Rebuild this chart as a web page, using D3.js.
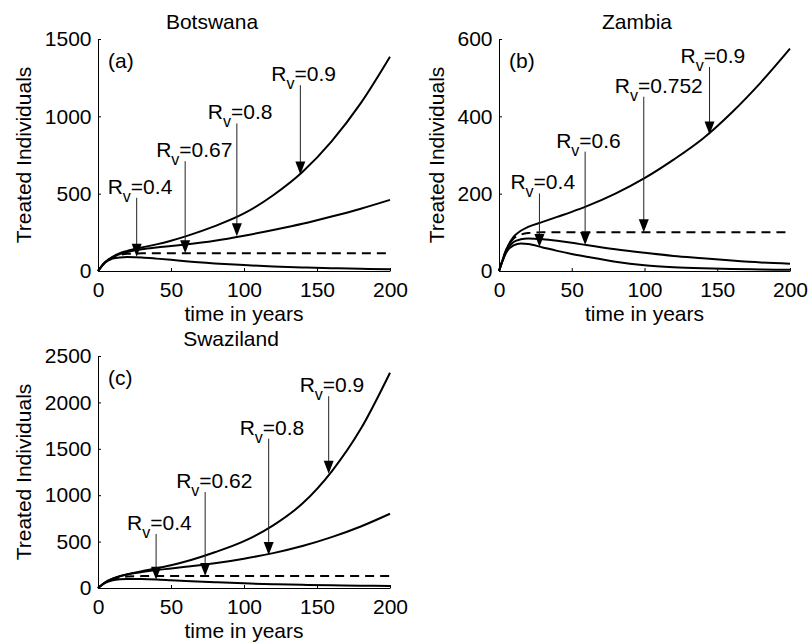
<!DOCTYPE html>
<html>
<head>
<meta charset="utf-8">
<script src="https://cdn.jsdelivr.net/npm/d3@7"></script>
<style>
  html, body { margin: 0; padding: 0; background: #fff; }
  svg { display: block; }
  text { font-family: "Liberation Sans", Arial, Helvetica, sans-serif; fill: #000; }
</style>
</head>
<body>
<svg id="chart" width="812" height="644"></svg>
<script>
// ---------------- data ----------------
const years = [0, 5, 10, 15, 20, 30, 40, 50, 60, 80, 100, 120, 140, 160, 180, 200];
const xTicks = [0, 50, 100, 150, 200];

// Botswana (a)
const botswanaTicks = [0, 500, 1000, 1500];
const botswanaRv09  = [0, 58, 92, 115, 130, 152, 172, 196, 224, 290, 372, 490, 640, 838, 1085, 1385];
const botswanaRv08  = [0, 58, 90, 110, 122, 140, 152, 162, 172, 196, 228, 265, 305, 352, 403, 460];
const botswanaRv067 = [0, 58, 88, 104, 111, 114, 115, 115, 115, 115, 115, 115, 115, 115, 115, 115];
const botswanaRv04  = [0, 55, 80, 88, 90, 87, 80, 72, 63, 49, 38, 29, 23, 18, 14, 11];
const botswanaNotes = [
  { rv: "0.4",  t: 26.5,  tip: 92,  label: 499 },
  { rv: "0.67", t: 59.7,  tip: 115, label: 736 },
  { rv: "0.8",  t: 95.1,  tip: 225, label: 980 },
  { rv: "0.9",  t: 138.6, tip: 624, label: 1227 }
];

// Zambia (b)
const zambiaTicks   = [0, 200, 400, 600];
const zambiaRv09    = [0, 55, 88, 104, 114, 127, 140, 153, 167, 200, 240, 288, 342, 410, 488, 575];
const zambiaRv0752  = [0, 55, 84, 94, 98, 100, 100, 100, 100, 100, 100, 100, 100, 100, 100, 100];
const zambiaRv06    = [0, 50, 75, 82, 84, 82, 78, 73, 67, 56, 47, 39, 33, 27, 22, 19];
const zambiaRv04    = [0, 48, 66, 71, 70, 61, 52, 44, 37, 24, 15, 10, 7, 5, 4, 3];
const zambiaNotes = [
  { rv: "0.4",   t: 27.8,  tip: 62,  label: 211 },
  { rv: "0.6",   t: 59.2,  tip: 67,  label: 319 },
  { rv: "0.752", t: 99.5,  tip: 100, label: 461 },
  { rv: "0.9",   t: 144.7, tip: 353, label: 538 }
];

// Swaziland (c)
const swazilandTicks  = [0, 500, 1000, 1500, 2000, 2500];
const swazilandRv09   = [0, 62, 100, 128, 148, 182, 212, 245, 285, 385, 505, 675, 910, 1255, 1715, 2320];
const swazilandRv08   = [0, 62, 100, 127, 146, 172, 193, 210, 228, 266, 316, 376, 452, 548, 663, 800];
const swazilandRv062  = [0, 60, 95, 115, 124, 128, 130, 130, 130, 130, 130, 130, 130, 130, 130, 130];
const swazilandRv04   = [0, 55, 82, 94, 98, 97, 92, 84, 76, 62, 50, 41, 34, 29, 25, 22];
const swazilandNotes = [
  { rv: "0.4",  t: 39.8,  tip: 88,   label: 626 },
  { rv: "0.62", t: 73.4,  tip: 130,  label: 1077 },
  { rv: "0.8",  t: 116.9, tip: 356,  label: 1652 },
  { rv: "0.9",  t: 158,   tip: 1231, label: 2110 }
];

// ---------------- layout ----------------
const panels = [
  { title: "Botswana", titleX: 212, tag: "(a)", left: 98, top: 39, width: 292, height: 232,
    yMax: 1500, yTicks: botswanaTicks, ylabX: 31,
    solid: [botswanaRv09, botswanaRv08, botswanaRv04], dashed: botswanaRv067, notes: botswanaNotes },
  { title: "Zambia", titleX: 637, tag: "(b)", left: 499, top: 39, width: 291, height: 232,
    yMax: 600, yTicks: zambiaTicks, ylabX: 444,
    solid: [zambiaRv09, zambiaRv06, zambiaRv04], dashed: zambiaRv0752, notes: zambiaNotes },
  { title: "Swaziland", titleX: 231, tag: "(c)", left: 98, top: 356, width: 292, height: 232,
    yMax: 2500, yTicks: swazilandTicks, ylabX: 31,
    solid: [swazilandRv09, swazilandRv08, swazilandRv04], dashed: swazilandRv062, notes: swazilandNotes }
];

const FS = 21;
const svg = d3.select("#chart");
svg.append("rect").attr("width", 812).attr("height", 644).attr("fill", "#fff");

panels.forEach(p => {
  const x = d3.scaleLinear().domain([0, 200]).range([0, p.width]);
  const y = d3.scaleLinear().domain([0, p.yMax]).range([p.height, 0]);
  const g = svg.append("g").attr("transform", `translate(${p.left},${p.top})`);

  // axes
  const xa = g.append("g").attr("transform", `translate(0,${p.height})`)
    .call(d3.axisBottom(x).tickValues(xTicks).tickFormat(d3.format("d"))
      .tickSizeInner(-3).tickSizeOuter(0).tickPadding(10.8));
  const ya = g.append("g")
    .call(d3.axisLeft(y).tickValues(p.yTicks).tickFormat(d3.format("d"))
      .tickSizeInner(-3).tickSizeOuter(0).tickPadding(6.5));
  [xa, ya].forEach(a => {
    a.selectAll("path, line").attr("stroke", "#000").attr("stroke-width", 1);
    a.selectAll("text").attr("font-size", FS).attr("font-family", "Liberation Sans, Arial, sans-serif").attr("fill", "#000");
  });

  // lines
  const line = d3.line().x((d, i) => x(years[i])).y(d => y(d)).curve(d3.curveMonotoneX);
  g.append("path").datum(p.dashed).attr("d", line)
    .attr("fill", "none").attr("stroke", "#000").attr("stroke-width", 2).attr("stroke-dasharray", "9,6");
  p.solid.forEach(s => {
    g.append("path").datum(s).attr("d", line)
      .attr("fill", "none").attr("stroke", "#000").attr("stroke-width", 2);
  });

  // annotations
  p.notes.forEach(n => {
    const ax = x(n.t);
    const ly = y(n.label);
    const tipY = y(n.tip);
    const headLen = 13, headHalf = 5;
    g.append("line").attr("x1", ax).attr("x2", ax).attr("y1", ly + 4).attr("y2", tipY - headLen + 1)
      .attr("stroke", "#222").attr("stroke-width", 1);
    g.append("path")
      .attr("d", `M${ax},${tipY} L${ax - headHalf},${tipY - headLen} L${ax + headHalf},${tipY - headLen} Z`)
      .attr("fill", "#000");
    const t = g.append("text").attr("x", ax - 29).attr("y", ly).attr("font-size", FS);
    t.append("tspan").text("R");
    t.append("tspan").attr("dy", 8).attr("font-size", 16).text("v");
    t.append("tspan").attr("dy", -8).text("=" + n.rv);
  });

  // tag
  g.append("text").attr("x", 10).attr("y", 28.5).attr("font-size", FS).text(p.tag);

  // title
  svg.append("text").attr("x", p.titleX).attr("y", p.top - 10.5)
    .attr("text-anchor", "middle").attr("font-size", FS).text(p.title);

  // x label
  svg.append("text").attr("x", p.left + p.width / 2).attr("y", p.top + p.height + 49.5)
    .attr("text-anchor", "middle").attr("font-size", FS).text("time in years");

  // y label
  svg.append("text")
    .attr("transform", `translate(${p.ylabX},${p.top + p.height / 2}) rotate(-90)`)
    .attr("text-anchor", "middle").attr("font-size", FS).text("Treated Individuals");
});
</script>
</body>
</html>
